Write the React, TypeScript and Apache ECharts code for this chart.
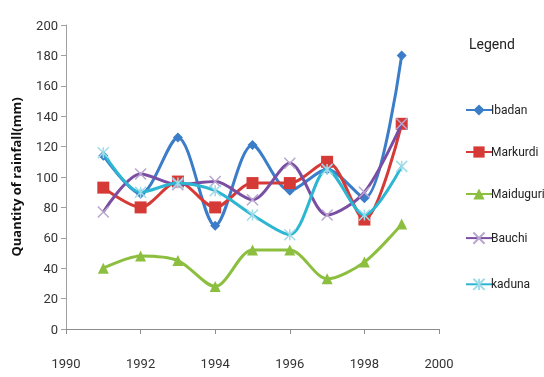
import React, { useEffect, useRef } from "react";
import * as echarts from "echarts";

const years = [1991, 1992, 1993, 1994, 1995, 1996, 1997, 1998, 1999];
const ibadan = [114, 89, 126, 68, 121, 91, 105, 86, 180];
const markurdi = [93, 80, 97, 80, 96, 96, 110, 72, 135];
const maiduguri = [40, 48, 45, 28, 52, 52, 33, 44, 69];
const bauchi = [77, 102, 95, 97, 85, 109, 75, 90, 135];
const kaduna = [116, 90, 96, 91, 75, 62, 105, 75, 107];
const seriesNames = ["Ibadan", "Markurdi", "Maiduguri", "Bauchi", "kaduna"];
const xTicks = { min: 1990, max: 2000, interval: 2 };
const yTicks = { min: 0, max: 200, interval: 20 };

const FONT = "Roboto, 'Open Sans', sans-serif";

export default function App() {
  const ref = useRef<HTMLDivElement>(null);
  useEffect(() => {
    if (!ref.current) return;
    const chart = echarts.init(ref.current, null, { renderer: "svg" });
    const pairs = (vals: number[]) => years.map((y, i) => [y, vals[i]]);
    const colors = ["#3b7dc9", "#d63a36", "#8cbf3f", "#7a4ea3", "#2db6d2"];
    const symbols = [
      "diamond",
      "rect",
      "triangle",
      "path://M0,0L10,10M10,0L0,10",
      "path://M0,0L10,10M10,0L0,10M5,0L5,10",
    ];
    const sizes = [10, 12, 11, 11, 11];
    const datas = [ibadan, markurdi, maiduguri, bauchi, kaduna];
    const series = datas.map((d, i) => ({
      name: seriesNames[i],
      type: "line",
      data: pairs(d),
      smooth: 0.3,
      symbol: symbols[i],
      symbolSize: sizes[i],
      lineStyle: { width: 3, color: colors[i] },
      itemStyle:
        i >= 3
          ? { color: "none", borderColor: i === 3 ? "#b9a6cf" : "#9fdbe8", borderWidth: 1.5 }
          : { color: colors[i] },
      z: 2 + i,
    }));
    chart.setOption({
      animation: false,
      textStyle: { fontFamily: FONT },
      grid: { left: 66, right: 105, top: 25, bottom: 48 },
      xAxis: {
        type: "value",
        min: xTicks.min,
        max: xTicks.max,
        interval: xTicks.interval,
        axisLine: { show: true, lineStyle: { color: "#8c8c8c" } },
        axisTick: { show: true, length: 5, lineStyle: { color: "#8c8c8c" } },
        splitLine: { show: false },
        axisLabel: { color: "#333", fontSize: 13, fontFamily: FONT, margin: 28, formatter: (v: number) => String(v) },
      },
      yAxis: {
        type: "value",
        min: yTicks.min,
        max: yTicks.max,
        interval: yTicks.interval,
        name: "Quantity of rainfall(mm)",
        nameLocation: "middle",
        nameGap: 44,
        nameTextStyle: { fontWeight: "bold", fontSize: 13, color: "#111", fontFamily: "'Open Sans', sans-serif" },
        axisLine: { show: true, lineStyle: { color: "#a0a0a0" } },
        axisTick: { show: true, length: 5, lineStyle: { color: "#a0a0a0" } },
        splitLine: { show: false },
        axisLabel: { color: "#333", fontSize: 13, fontFamily: FONT, margin: 8 },
      },
      legend: {
        orient: "vertical",
        left: 460,
        top: 99,
        itemGap: 30,
        itemWidth: 26,
        itemHeight: 14,
        data: seriesNames,
        textStyle: { fontSize: 12, color: "#222", fontFamily: FONT, padding: [0, 0, 0, -6] },
      },
      graphic: [
        {
          type: "text",
          left: 469,
          top: 37,
          style: { text: "Legend", fontSize: 14, fill: "#222", fontFamily: FONT },
        },
      ],
      series,
    });
    return () => chart.dispose();
  }, []);
  return <div ref={ref} style={{ position: "fixed", left: 0, top: 0, width: 544, height: 377 }} />;
}
